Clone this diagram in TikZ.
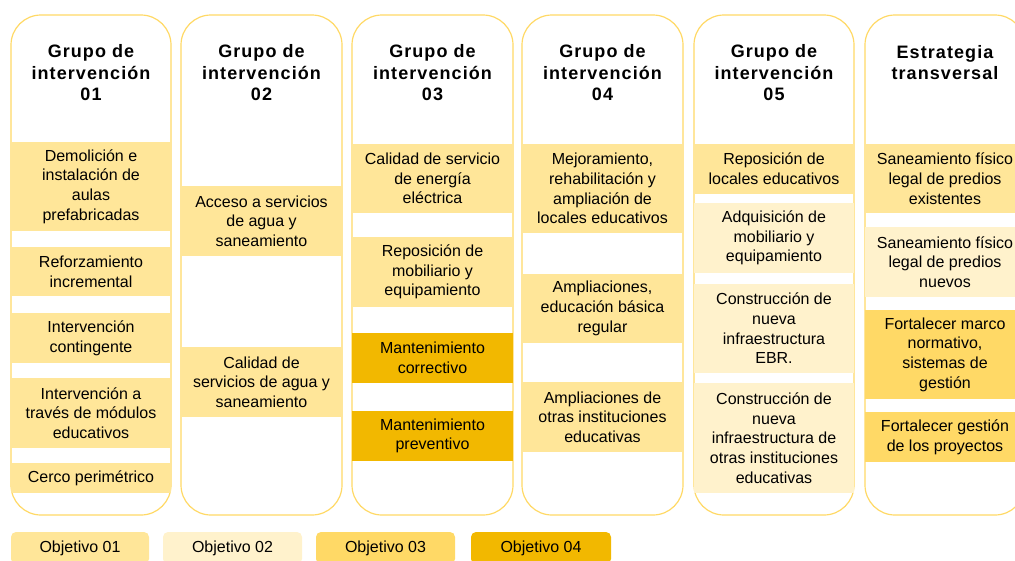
\documentclass[tikz,border=0pt]{standalone}
\usepackage{fontspec}
\setmainfont{Liberation Sans}
\newfontfamily\headfont{Liberation Sans}[LetterSpace=6]
\definecolor{obja}{HTML}{FFE699}
\definecolor{objb}{HTML}{FFF2CC}
\definecolor{objc}{HTML}{FFD966}
\definecolor{objd}{HTML}{F2B800}
\tikzset{
  colframe/.style={draw=objc, line width=1.2pt, rounded corners=30pt, fill=white, inner sep=0pt},
  actbox/.style={align=center, inner sep=0pt, font=\fontsize{16}{19.7}\selectfont},
  headtxt/.style={align=center, inner sep=0pt, font=\headfont\bfseries\fontsize{18}{21.5}\selectfont},
  objkey/.style={rounded corners=5pt, inner sep=0pt, minimum height=32pt, font=\fontsize{16}{19}\selectfont}
}
\begin{document}
\begin{tikzpicture}[x=1pt,y=-1pt]
  \useasboundingbox (0,0) rectangle (1015,560);
  \clip (0,0) rectangle (1015,560);
  % columnas
  \node[colframe, minimum width=160pt, minimum height=500pt] (g1) at (91,265) {};
  \node[colframe, minimum width=161pt, minimum height=500pt] (g2) at (261.5,265) {};
  \node[colframe, minimum width=161pt, minimum height=500pt] (g3) at (432.5,265) {};
  \node[colframe, minimum width=161pt, minimum height=500pt] (g4) at (602.5,265) {};
  \node[colframe, minimum width=160pt, minimum height=500pt] (g5) at (774,265) {};
  \node[colframe, minimum width=160pt, minimum height=500pt] (g6) at (945,265) {};
  % titulos
  \node[headtxt] (h1) at (91,73) {Grupo de\\intervención\\01};
  \node[headtxt] (h2) at (261.5,73) {Grupo de\\intervención\\02};
  \node[headtxt] (h3) at (432.5,73) {Grupo de\\intervención\\03};
  \node[headtxt] (h4) at (602.5,73) {Grupo de\\intervención\\04};
  \node[headtxt] (h5) at (774,73) {Grupo de\\intervención\\05};
  \node[headtxt] (h6) at (945,62.5) {Estrategia\\transversal};
  % grupo 01
  \node[actbox, fill=obja, minimum width=160pt, minimum height=89pt] (g1a) at (91,186.5) {Demolición e\\instalación de\\aulas\\prefabricadas};
  \node[actbox, fill=obja, minimum width=160pt, minimum height=49pt] (g1b) at (91,271.5) {Reforzamiento\\incremental};
  \node[actbox, fill=obja, minimum width=160pt, minimum height=50pt] (g1c) at (91,338) {Intervención\\contingente};
  \node[actbox, fill=obja, minimum width=160pt, minimum height=70pt] (g1d) at (91,413) {Intervención a\\través de módulos\\educativos};
  \node[actbox, fill=obja, minimum width=160pt, minimum height=30pt] (g1e) at (91,478) {Cerco perimétrico};
  % grupo 02
  \node[actbox, fill=obja, minimum width=161pt, minimum height=70pt] (g2a) at (261.5,221) {Acceso a servicios\\de agua y\\saneamiento};
  \node[actbox, fill=obja, minimum width=161pt, minimum height=70pt] (g2b) at (261.5,382) {Calidad de\\servicios de agua y\\saneamiento};
  % grupo 03
  \node[actbox, fill=obja, minimum width=161pt, minimum height=69pt] (g3a) at (432.5,178.5) {Calidad de servicio\\de energía\\eléctrica};
  \node[actbox, fill=obja, minimum width=161pt, minimum height=70pt] (g3b) at (432.5,272) {Reposición de\\mobiliario y\\equipamiento};
  \node[actbox, fill=objd, minimum width=161pt, minimum height=50pt] (g3c) at (432.5,358) {Mantenimiento\\correctivo};
  \node[actbox, fill=objd, minimum width=161pt, minimum height=50pt] (g3d) at (432.5,436) {Mantenimiento\\preventivo};
  % grupo 04
  \node[actbox, fill=obja, minimum width=161pt, minimum height=89pt] (g4a) at (602.5,188.5) {Mejoramiento,\\rehabilitación y\\ampliación de\\locales educativos};
  \node[actbox, fill=obja, minimum width=161pt, minimum height=69pt] (g4b) at (602.5,308.5) {Ampliaciones,\\educación básica\\regular};
  \node[actbox, fill=obja, minimum width=161pt, minimum height=70pt] (g4c) at (602.5,417) {Ampliaciones de\\otras instituciones\\educativas};
  % grupo 05
  \node[actbox, fill=obja, minimum width=160pt, minimum height=50pt] (g5a) at (774,169) {Reposición de\\locales educativos};
  \node[actbox, fill=objb, minimum width=160pt, minimum height=70pt] (g5b) at (774,238) {Adquisición de\\mobiliario y\\equipamiento};
  \node[actbox, fill=objb, minimum width=160pt, minimum height=89pt] (g5c) at (774,328.5) {Construcción de\\nueva\\infraestructura\\EBR.};
  \node[actbox, fill=objb, minimum width=160pt, minimum height=110pt] (g5d) at (774,438) {Construcción de\\nueva\\infraestructura de\\otras instituciones\\educativas};
  % estrategia transversal
  \node[actbox, fill=obja, minimum width=160pt, minimum height=69pt] (g6a) at (945,178.5) {Saneamiento físico\\legal de predios\\existentes};
  \node[actbox, fill=objb, minimum width=160pt, minimum height=70pt] (g6b) at (945,262) {Saneamiento físico\\legal de predios\\nuevos};
  \node[actbox, fill=objc, minimum width=160pt, minimum height=89pt] (g6c) at (945,354.5) {Fortalecer marco\\normativo,\\sistemas de\\gestión};
  \node[actbox, fill=objc, minimum width=160pt, minimum height=50pt] (g6d) at (945,437) {Fortalecer gestión\\de los proyectos};
  % leyenda
  \node[objkey, fill=obja, minimum width=138pt] (k1) at (80,548) {Objetivo 01};
  \node[objkey, fill=objb, minimum width=139pt] (k2) at (232.5,548) {Objetivo 02};
  \node[objkey, fill=objc, minimum width=139pt] (k3) at (385.5,548) {Objetivo 03};
  \node[objkey, fill=objd, minimum width=140pt] (k4) at (541,548) {Objetivo 04};
\end{tikzpicture}
\end{document}
